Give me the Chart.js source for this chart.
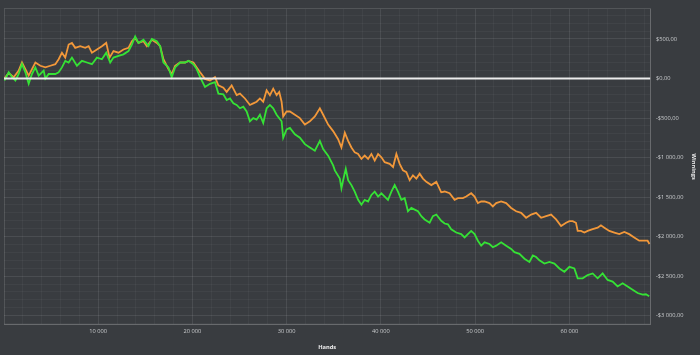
<!DOCTYPE html>
<html>
<head>
<meta charset="utf-8">
<script src="https://cdn.jsdelivr.net/npm/chart.js@4/dist/chart.umd.min.js"></script>
<style>
  html, body { margin: 0; padding: 0; background: #393c40; }
  #wrap { width: 700px; height: 355px; }
</style>
</head>
<body>
<div id="wrap"><canvas id="c" width="700" height="355"></canvas></div>
<script>
// ---- data ----
const orangeHands = [40,500,1030,1560,1910,2270,2620,2970,3330,3860,
  4390,4920,5450,5800,6150,6500,6860,7210,7560,8090,
  8620,8980,9330,9860,10390,10850,11200,11620,12150,12680,
  13210,13570,13920,14270,14800,15160,15690,16220,16570,16920,
  17450,17800,18160,18690,19220,19570,20100,20450,20810,21330,
  21860,22390,22750,23280,23630,24160,24690,25040,25570,26100,
  26450,26810,27160,27510,27870,28220,28570,28930,29210,29460,
  29630,29990,30340,30870,31400,31930,32460,32990,33520,33870,
  34400,34930,35460,35810,36170,36520,36870,37220,37580,37930,
  38280,38640,38990,39340,39700,40050,40400,40930,41290,41640,
  41990,42340,42700,43050,43400,43760,44110,44460,44820,45350,
  45880,46400,46760,47290,47820,48170,48700,49050,49580,49940,
  50290,50640,51000,51520,51880,52230,52760,53290,53820,54350,
  54880,55410,55940,56470,57000,57530,58060,58230,58590,59120,
  59650,60000,60350,60700,60880,61230,61590,61940,62470,63000,
  63350,63710,64240,64770,65300,65830,66350,66880,67410,67940,
  68300,68500];
const orangeValues = [0,70,16,99,202,119,37,119,202,161,
  140,161,181,243,326,264,429,450,388,409,
  388,409,326,367,409,450,264,347,326,367,
  388,471,512,450,471,409,491,450,409,243,
  119,57,161,202,202,223,202,140,78,-5,
  -25,16,-87,-118,-170,-87,-211,-191,-253,-335,
  -315,-294,-253,-294,-149,-211,-129,-211,-170,-294,
  -480,-418,-418,-459,-501,-583,-542,-480,-377,-459,
  -583,-666,-769,-873,-687,-790,-873,-935,-955,-1018,
  -976,-1018,-955,-1039,-955,-997,-1059,-1080,-1121,-955,
  -1080,-1163,-1184,-1287,-1225,-1266,-1204,-1266,-1308,-1349,
  -1308,-1440,-1430,-1452,-1535,-1514,-1514,-1494,-1452,-1494,
  -1576,-1556,-1556,-1576,-1618,-1576,-1556,-1576,-1638,-1680,
  -1700,-1762,-1721,-1700,-1762,-1742,-1721,-1742,-1783,-1866,
  -1825,-1804,-1804,-1825,-1928,-1928,-1949,-1928,-1907,-1887,
  -1858,-1887,-1928,-1949,-1969,-1941,-1969,-2011,-2052,-2052,
  -2052,-2094];

const greenHands = [40,500,860,1210,1560,1910,2270,2620,2970,3330,
  3680,4210,4390,4740,5450,5800,6150,6500,6860,7210,
  7740,8270,8800,9330,9860,10390,10850,11270,11620,12150,
  12680,13210,13570,13920,14270,14800,15330,15690,16220,16570,
  16920,17450,17800,18160,18690,19220,19570,20100,20450,20810,
  21330,21860,22390,22750,23280,23630,23980,24340,24690,25040,
  25400,25750,26100,26450,26810,27160,27510,27870,28220,28570,
  28930,29460,29630,29990,30340,30870,31400,31930,32460,32990,
  33520,33870,34400,34930,35110,35640,35810,35990,36270,36520,
  36870,37220,37580,37930,38280,38640,38990,39340,39700,40050,
  40400,40750,41110,41460,41810,42170,42520,42870,43230,43580,
  43930,44290,44640,45170,45520,45880,46400,46760,47110,47460,
  47990,48520,48880,49230,49580,49940,50290,50640,51000,51520,
  51880,52230,52760,53290,53820,54170,54700,55230,55760,56120,
  56470,56820,57350,57880,58410,58940,59470,60000,60530,60880,
  61410,61940,62470,63000,63530,64060,64590,65120,65650,66180,
  66710,67240,67770,68120,68470];
const greenValues = [-25,78,16,-25,57,181,78,-67,57,140,
  37,99,0,57,57,78,140,223,202,264,
  161,223,202,181,264,243,326,202,264,285,
  305,347,429,533,450,491,409,500,471,409,
  202,140,16,140,202,202,223,181,119,16,
  -108,-67,-46,-191,-200,-273,-253,-315,-335,-377,
  -356,-418,-542,-501,-521,-459,-563,-377,-335,-377,
  -459,-542,-750,-645,-625,-707,-750,-831,-873,-914,
  -790,-893,-976,-1100,-1163,-1266,-1390,-1287,-1142,-1287,
  -1349,-1432,-1535,-1597,-1535,-1556,-1473,-1432,-1494,-1452,
  -1494,-1535,-1432,-1349,-1432,-1535,-1514,-1680,-1638,-1659,
  -1680,-1742,-1783,-1825,-1742,-1721,-1800,-1835,-1845,-1907,
  -1949,-1969,-2011,-1969,-1928,-1969,-2052,-2115,-2073,-2094,
  -2135,-2115,-2073,-2115,-2156,-2197,-2218,-2280,-2321,-2239,
  -2259,-2301,-2342,-2321,-2342,-2404,-2445,-2383,-2404,-2528,
  -2528,-2487,-2466,-2528,-2466,-2549,-2569,-2631,-2590,-2631,
  -2673,-2714,-2735,-2730,-2755];

const zeroHands = [0, 68600];
const zeroValues = [0, 0];

// axis ranges / tick spacing
const X_MIN = 0, X_MAX = 68600, X_STEP = 2000, X_LABEL_STEP = 10000;
const Y_MIN = -3110, Y_MAX = 880, Y_STEP = 100, Y_LABEL_STEP = 500;

// ---- helpers ----
function group(n) { return String(Math.round(Math.abs(n))).replace(/\B(?=(\d{3})+(?!\d))/g, ' '); }
function money(v) { return (v < 0 ? '-' : '') + '$' + group(v) + ',00'; }
function pts(xs, ys) { return xs.map((x, i) => ({ x: x, y: ys[i] })); }
function buildTicks(min, max, step) {
  const t = [{ value: min }];
  for (let v = Math.ceil(min / step) * step; v < max; v += step) if (v > min) t.push({ value: v });
  t.push({ value: max });
  return t;
}

const MINOR = 'rgba(255,255,255,0.04)';
const MAJOR = 'rgba(255,255,255,0.09)';
const EDGE = 'rgba(255,255,255,0.13)';

Chart.defaults.font.family = "'Open Sans', 'Liberation Sans', sans-serif";

new Chart(document.getElementById('c'), {
  type: 'line',
  data: {
    datasets: [
      { data: pts(zeroHands, zeroValues), borderColor: '#ececec', borderWidth: 2, pointRadius: 0 },
      { data: pts(greenHands, greenValues), borderColor: '#35e235', borderWidth: 1.8, pointRadius: 0 },
      { data: pts(orangeHands, orangeValues), borderColor: '#f2983a', borderWidth: 1.8, pointRadius: 0 }
    ]
  },
  options: {
    responsive: false,
    animation: false,
    events: [],
    layout: { padding: { left: 4, top: 5, right: 0, bottom: 0 } },
    plugins: { legend: { display: false }, tooltip: { enabled: false } },
    elements: { line: { tension: 0 } },
    scales: {
      x: {
        type: 'linear', min: X_MIN, max: X_MAX,
        afterBuildTicks: s => { s.ticks = buildTicks(X_MIN, X_MAX, X_STEP); },
        grid: {
          drawTicks: false,
          color: c => (c.tick.value === X_MIN || c.tick.value === X_MAX) ? EDGE :
                      (c.tick.value % X_LABEL_STEP === 0 ? MAJOR : MINOR)
        },
        border: { color: EDGE },
        ticks: {
          autoSkip: false, maxRotation: 0, padding: 3.5,
          color: '#c9cbcd', font: { size: 5.7 },
          callback: v => (v % X_LABEL_STEP === 0 && v !== 0) ? group(v) : ''
        },
        title: { display: true, text: 'Hands', color: '#eeeeee',
                 font: { size: 5.7, weight: 'bold' }, padding: { top: 5.5, bottom: 4.5 } }
      },
      y: {
        type: 'linear', position: 'right', min: Y_MIN, max: Y_MAX,
        afterBuildTicks: s => { s.ticks = buildTicks(Y_MIN, Y_MAX, Y_STEP); },
        grid: {
          drawTicks: false,
          color: c => (c.tick.value === Y_MIN || c.tick.value === Y_MAX) ? EDGE :
                      (c.tick.value % Y_LABEL_STEP === 0 ? MAJOR : MINOR)
        },
        border: { color: EDGE },
        ticks: {
          autoSkip: false, padding: 5.5,
          color: '#c9cbcd', font: { size: 5.7 },
          callback: v => (v % Y_LABEL_STEP === 0) ? money(v) : ''
        },
        title: { display: true, text: 'Winnings', color: '#eeeeee',
                 font: { size: 5.7, weight: 'bold' }, padding: { top: 2.6, bottom: 1.6 } }
      }
    }
  }
});
</script>
</body>
</html>
